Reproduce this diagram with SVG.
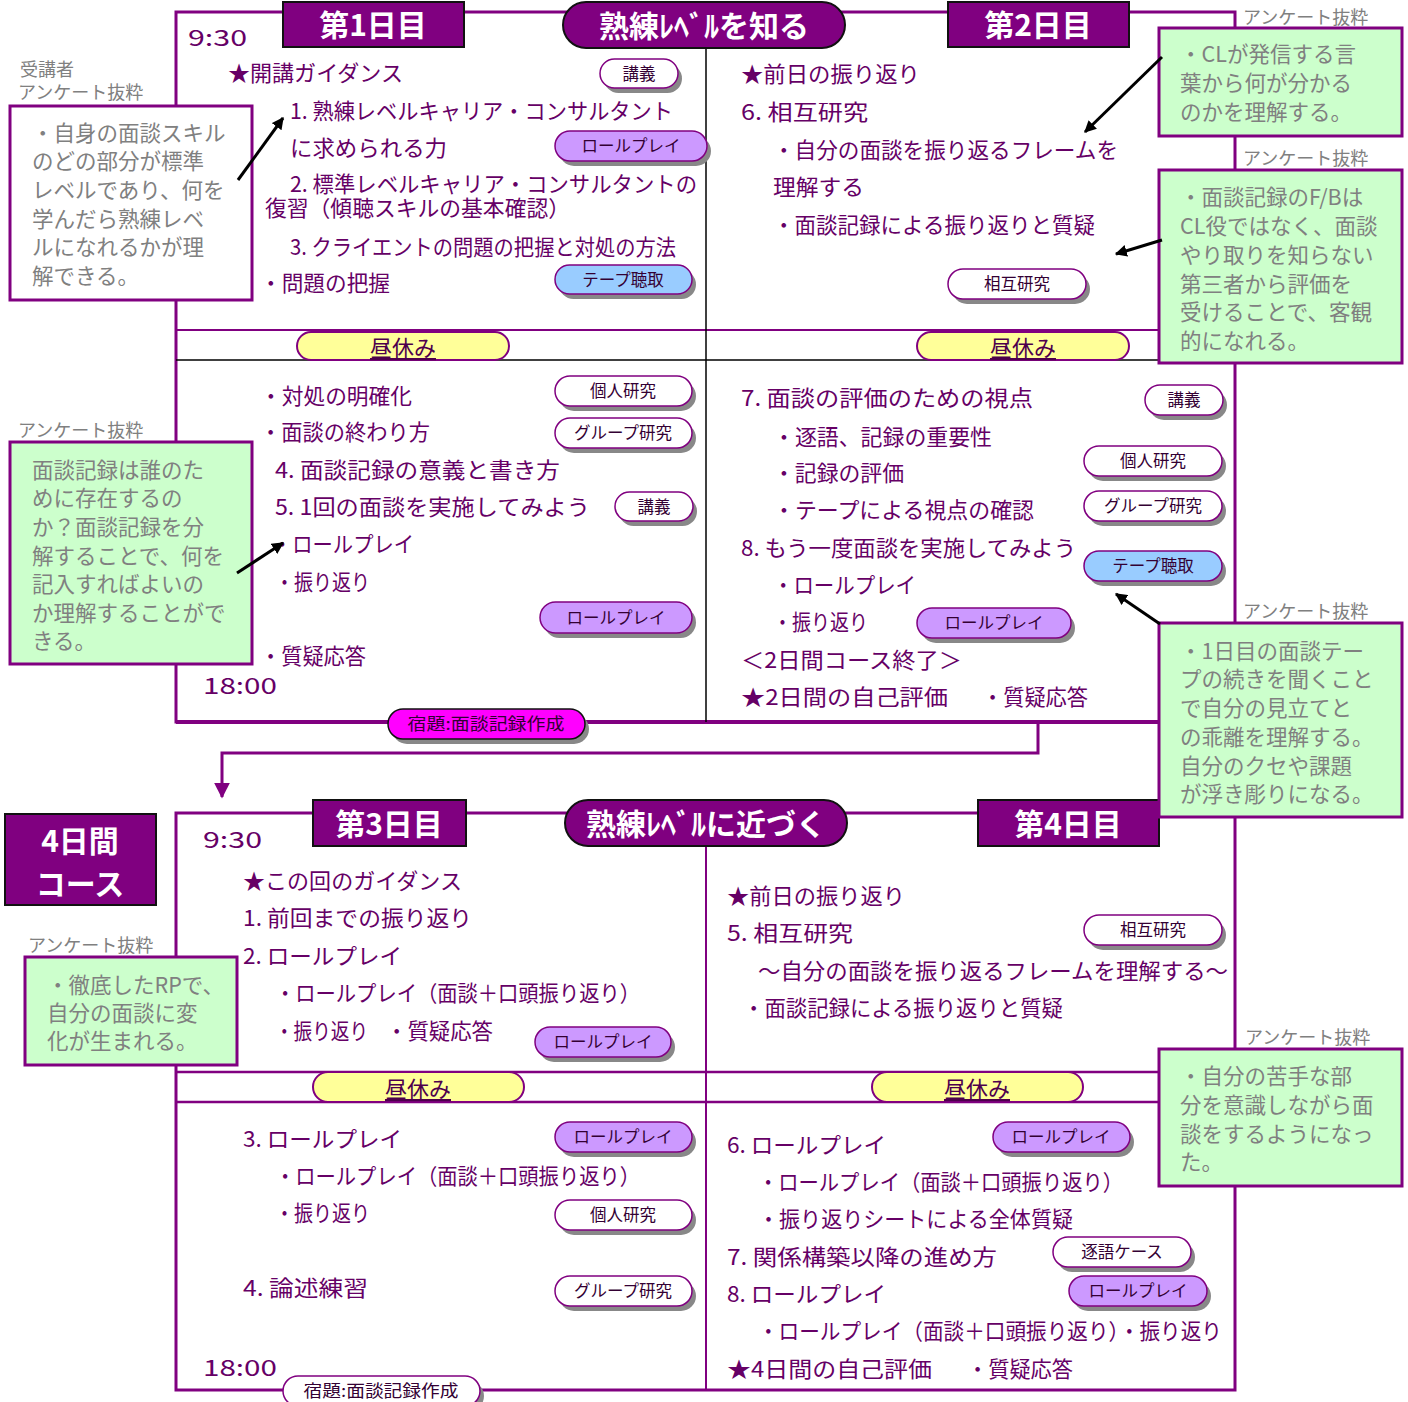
<svg xmlns="http://www.w3.org/2000/svg" width="1408" height="1402" viewBox="0 0 1408 1402">
<style>
text{font-family:"Noto Sans CJK JP","Noto Sans",sans-serif}
.t{font-size:22px;fill:#660066}
.a{font-size:21.5px;fill:#808080}
.lb{font-size:18px;fill:#808080}
.bt{font-size:16.5px;fill:#330033;text-anchor:middle}
.ht{font-size:30px;font-weight:bold;fill:#fff;text-anchor:middle}
.hd{fill:#800080;stroke:#111;stroke-width:2}
.pw{fill:#fff;stroke:#800080;stroke-width:1.5}
.pl{fill:#cc99ff;stroke:#800080;stroke-width:1.5}
.pb{fill:#99ccff;stroke:#800080;stroke-width:1.5}
.pm{fill:#ff00ff;stroke:#111;stroke-width:1.5}
.sh{fill:#888}
.ly{fill:#ffff99;stroke:#800080;stroke-width:2}
.lt{font-size:22px;fill:#4d004d;text-anchor:middle;text-decoration:underline}
.ab{stroke:#800080;stroke-width:3}
.g{fill:#ccffcc}
.w{fill:#fff}
.ar{stroke:#000;stroke-width:3;fill:none}
</style>
<defs>
<marker id="ah" viewBox="0 0 10 10" refX="9" refY="5" markerWidth="12" markerHeight="12" markerUnits="userSpaceOnUse" orient="auto"><path d="M0,0 L10,5 L0,10 z" fill="#000"/></marker>
<marker id="ap" viewBox="0 0 10 10" refX="9" refY="5" markerWidth="16" markerHeight="16" markerUnits="userSpaceOnUse" orient="auto"><path d="M0,0 L10,5 L0,10 z" fill="#800080"/></marker>
</defs>
<rect width="1408" height="1402" fill="#fff"/>

<!-- Top panel frame -->
<g id="panel-top">
<rect x="176" y="12" width="1059" height="710" fill="#fff" stroke="#800080" stroke-width="3"/>
<line x1="176" y1="722" x2="1235" y2="722" stroke="#800080" stroke-width="4"/>
<line x1="176" y1="330" x2="1235" y2="330" stroke="#800080" stroke-width="2"/>
<line x1="176" y1="360" x2="1235" y2="360" stroke="#000" stroke-width="1.5"/>
<line x1="706" y1="46" x2="706" y2="722" stroke="#000" stroke-width="1.5"/>
</g>

<!-- Bottom panel frame -->
<g id="panel-bottom">
<rect x="176" y="813" width="1059" height="577" fill="#fff" stroke="#800080" stroke-width="3"/>
<line x1="176" y1="1072" x2="1235" y2="1072" stroke="#800080" stroke-width="2.5"/>
<line x1="176" y1="1102" x2="1235" y2="1102" stroke="#800080" stroke-width="2.5"/>
<line x1="706" y1="846" x2="706" y2="1390" stroke="#800080" stroke-width="2"/>
</g>

<!-- Headers -->
<g id="hdr-day1"><rect class="hd" x="283" y="2" width="181" height="45"/><text class="ht" x="373" y="36">第1日目</text></g>
<g id="hdr-level1"><rect class="hd" x="563" y="2" width="282" height="46" rx="23"/><text class="ht" x="704" y="37">熟練ﾚﾍﾞﾙを知る</text></g>
<g id="hdr-day2"><rect class="hd" x="948" y="2" width="181" height="45"/><text class="ht" x="1038" y="36">第2日目</text></g>
<g id="hdr-day3"><rect class="hd" x="313" y="800" width="153" height="46"/><text class="ht" x="389" y="835">第3日目</text></g>
<g id="hdr-level2"><rect class="hd" x="565" y="800" width="282" height="46" rx="23"/><text class="ht" x="706" y="835">熟練ﾚﾍﾞﾙに近づく</text></g>
<g id="hdr-day4"><rect class="hd" x="978" y="800" width="181" height="46"/><text class="ht" x="1068" y="835">第4日目</text></g>
<g id="course4"><rect class="hd" x="5" y="814" width="151" height="91"/><text class="ht" x="80" y="852" font-size="29">4日間</text><text class="ht" x="80" y="895" font-size="29">コース</text></g>

<!-- Lunch pills -->
<g id="lunch1"><rect class="ly" x="297" y="332" width="212" height="28" rx="14"/><text class="lt" x="403" y="356">昼休み</text></g>
<g id="lunch2"><rect class="ly" x="917" y="332" width="212" height="28" rx="14"/><text class="lt" x="1023" y="356">昼休み</text></g>
<g id="lunch3"><rect class="ly" x="313" y="1072" width="211" height="30" rx="15"/><text class="lt" x="418" y="1097">昼休み</text></g>
<g id="lunch4"><rect class="ly" x="872" y="1072" width="211" height="30" rx="15"/><text class="lt" x="977" y="1097">昼休み</text></g>

<!-- Badges -->
<g id="b1"><rect class="sh" x="604" y="64" width="78" height="29" rx="14.5"/><rect class="pw" x="600" y="59" width="78" height="29" rx="14.5"/><text class="bt" x="639" y="80">講義</text></g>
<g id="b2"><rect class="sh" x="559" y="136" width="152" height="30" rx="15"/><rect class="pl" x="555" y="131" width="152" height="30" rx="15"/><text class="bt" x="631" y="152">ロールプレイ</text></g>
<g id="b3"><rect class="sh" x="559" y="270" width="137" height="29" rx="14.5"/><rect class="pb" x="555" y="265" width="137" height="29" rx="14.5"/><text class="bt" x="623" y="286">テープ聴取</text></g>
<g id="b4"><rect class="sh" x="952" y="274" width="138" height="30" rx="15"/><rect class="pw" x="948" y="269" width="138" height="30" rx="15"/><text class="bt" x="1017" y="290">相互研究</text></g>
<g id="b5"><rect class="sh" x="559" y="381" width="137" height="30" rx="15"/><rect class="pw" x="555" y="376" width="137" height="30" rx="15"/><text class="bt" x="623" y="397">個人研究</text></g>
<g id="b6"><rect class="sh" x="559" y="423" width="137" height="30" rx="15"/><rect class="pw" x="555" y="418" width="137" height="30" rx="15"/><text class="bt" x="623" y="439">グループ研究</text></g>
<g id="b7"><rect class="sh" x="619" y="497" width="78" height="29" rx="14.5"/><rect class="pw" x="615" y="492" width="78" height="29" rx="14.5"/><text class="bt" x="654" y="513">講義</text></g>
<g id="b8"><rect class="sh" x="544" y="607" width="152" height="31" rx="15.5"/><rect class="pl" x="540" y="602" width="152" height="31" rx="15.5"/><text class="bt" x="616" y="624">ロールプレイ</text></g>
<g id="b9"><rect class="sh" x="392" y="714" width="197" height="30" rx="15"/><rect class="pm" x="388" y="709" width="197" height="30" rx="15"/><text class="bt" x="486" y="730" textLength="157" lengthAdjust="spacingAndGlyphs">宿題:面談記録作成</text></g>
<g id="b10"><rect class="sh" x="1149" y="390" width="78" height="30" rx="15"/><rect class="pw" x="1145" y="385" width="78" height="30" rx="15"/><text class="bt" x="1184" y="406">講義</text></g>
<g id="b11"><rect class="sh" x="1088" y="451" width="138" height="30" rx="15"/><rect class="pw" x="1084" y="446" width="138" height="30" rx="15"/><text class="bt" x="1153" y="467">個人研究</text></g>
<g id="b12"><rect class="sh" x="1088" y="496" width="138" height="30" rx="15"/><rect class="pw" x="1084" y="491" width="138" height="30" rx="15"/><text class="bt" x="1153" y="512">グループ研究</text></g>
<g id="b13"><rect class="sh" x="1088" y="556" width="138" height="30" rx="15"/><rect class="pb" x="1084" y="551" width="138" height="30" rx="15"/><text class="bt" x="1153" y="572">テープ聴取</text></g>
<g id="b14"><rect class="sh" x="921" y="613" width="154" height="30" rx="15"/><rect class="pl" x="917" y="608" width="154" height="30" rx="15"/><text class="bt" x="994" y="629">ロールプレイ</text></g>
<g id="b15"><rect class="sh" x="539" y="1032" width="136" height="30" rx="15"/><rect class="pl" x="535" y="1027" width="136" height="30" rx="15"/><text class="bt" x="603" y="1048">ロールプレイ</text></g>
<g id="b16"><rect class="sh" x="559" y="1127" width="137" height="30" rx="15"/><rect class="pl" x="555" y="1122" width="137" height="30" rx="15"/><text class="bt" x="623" y="1143">ロールプレイ</text></g>
<g id="b17"><rect class="sh" x="559" y="1205" width="137" height="30" rx="15"/><rect class="pw" x="555" y="1200" width="137" height="30" rx="15"/><text class="bt" x="623" y="1221">個人研究</text></g>
<g id="b18"><rect class="sh" x="559" y="1281" width="137" height="30" rx="15"/><rect class="pw" x="555" y="1276" width="137" height="30" rx="15"/><text class="bt" x="623" y="1297">グループ研究</text></g>
<g id="b19"><rect class="sh" x="287" y="1381" width="197" height="30" rx="15"/><rect class="pw" x="283" y="1376" width="197" height="30" rx="15"/><text class="bt" x="381" y="1397" textLength="155" lengthAdjust="spacingAndGlyphs">宿題:面談記録作成</text></g>
<g id="b20"><rect class="sh" x="1088" y="920" width="138" height="30" rx="15"/><rect class="pw" x="1084" y="915" width="138" height="30" rx="15"/><text class="bt" x="1153" y="936">相互研究</text></g>
<g id="b21"><rect class="sh" x="997" y="1127" width="137" height="30" rx="15"/><rect class="pl" x="993" y="1122" width="137" height="30" rx="15"/><text class="bt" x="1061" y="1143">ロールプレイ</text></g>
<g id="b22"><rect class="sh" x="1057" y="1242" width="138" height="30" rx="15"/><rect class="pw" x="1053" y="1237" width="138" height="30" rx="15"/><text class="bt" x="1122" y="1258">逐語ケース</text></g>
<g id="b23"><rect class="sh" x="1073" y="1281" width="138" height="30" rx="15"/><rect class="pl" x="1069" y="1276" width="138" height="30" rx="15"/><text class="bt" x="1138" y="1297">ロールプレイ</text></g>

<!-- Day 1 content -->
<g id="day1-text">
<text class="t" x="188" y="46" textLength="59" lengthAdjust="spacingAndGlyphs">9:30</text>
<text class="t" x="228" y="81" textLength="175" lengthAdjust="spacingAndGlyphs">★開講ガイダンス</text>
<text class="t" x="290" y="119" textLength="383" lengthAdjust="spacingAndGlyphs">1. 熟練レベルキャリア・コンサルタント</text>
<text class="t" x="290" y="156" textLength="157" lengthAdjust="spacingAndGlyphs">に求められる力</text>
<text class="t" x="290" y="192" font-size="21" textLength="407" lengthAdjust="spacingAndGlyphs">2. 標準レベルキャリア・コンサルタントの</text>
<text class="t" x="265" y="216" font-size="21" textLength="305" lengthAdjust="spacingAndGlyphs">復習（傾聴スキルの基本確認）</text>
<text class="t" x="290" y="255" textLength="386" lengthAdjust="spacingAndGlyphs">3. クライエントの問題の把握と対処の方法</text>
<text class="t" x="260" y="291" textLength="130" lengthAdjust="spacingAndGlyphs">・問題の把握</text>
<text class="t" x="260" y="404" textLength="152" lengthAdjust="spacingAndGlyphs">・対処の明確化</text>
<text class="t" x="260" y="440" textLength="170" lengthAdjust="spacingAndGlyphs">・面談の終わり方</text>
<text class="t" x="275" y="478" textLength="285" lengthAdjust="spacingAndGlyphs">4. 面談記録の意義と書き方</text>
<text class="t" x="275" y="515" textLength="315" lengthAdjust="spacingAndGlyphs">5. 1回の面談を実施してみよう</text>
<text class="t" x="272" y="552" textLength="142" lengthAdjust="spacingAndGlyphs">・ロールプレイ</text>
<text class="t" x="275" y="590" textLength="95" lengthAdjust="spacingAndGlyphs">・振り返り</text>
<text class="t" x="260" y="664" textLength="106" lengthAdjust="spacingAndGlyphs">・質疑応答</text>
<text class="t" x="203" y="694" textLength="74" lengthAdjust="spacingAndGlyphs">18:00</text>
</g>

<!-- Day 2 content -->
<g id="day2-text">
<text class="t" x="741" y="82" textLength="179" lengthAdjust="spacingAndGlyphs">★前日の振り返り</text>
<text class="t" x="741" y="120" textLength="127" lengthAdjust="spacingAndGlyphs">6. 相互研究</text>
<text class="t" x="773" y="158" textLength="345" lengthAdjust="spacingAndGlyphs">・自分の面談を振り返るフレームを</text>
<text class="t" x="773" y="195" textLength="91" lengthAdjust="spacingAndGlyphs">理解する</text>
<text class="t" x="773" y="233" textLength="322" lengthAdjust="spacingAndGlyphs">・面談記録による振り返りと質疑</text>
<text class="t" x="741" y="406" textLength="292" lengthAdjust="spacingAndGlyphs">7. 面談の評価のための視点</text>
<text class="t" x="773" y="445" textLength="219" lengthAdjust="spacingAndGlyphs">・逐語、記録の重要性</text>
<text class="t" x="773" y="481" textLength="131" lengthAdjust="spacingAndGlyphs">・記録の評価</text>
<text class="t" x="773" y="518" textLength="261" lengthAdjust="spacingAndGlyphs">・テープによる視点の確認</text>
<text class="t" x="741" y="556" textLength="335" lengthAdjust="spacingAndGlyphs">8. もう一度面談を実施してみよう</text>
<text class="t" x="773" y="593" textLength="143" lengthAdjust="spacingAndGlyphs">・ロールプレイ</text>
<text class="t" x="773" y="630" textLength="95" lengthAdjust="spacingAndGlyphs">・振り返り</text>
<text class="t" x="741" y="668" textLength="221" lengthAdjust="spacingAndGlyphs">＜2日間コース終了＞</text>
<text class="t" x="741" y="705" textLength="207" lengthAdjust="spacingAndGlyphs">★2日間の自己評価</text>
<text class="t" x="982" y="705" textLength="106" lengthAdjust="spacingAndGlyphs">・質疑応答</text>
</g>

<!-- Day 3 content -->
<g id="day3-text">
<text class="t" x="203" y="848" textLength="59" lengthAdjust="spacingAndGlyphs">9:30</text>
<text class="t" x="243" y="889" textLength="219" lengthAdjust="spacingAndGlyphs">★この回のガイダンス</text>
<text class="t" x="243" y="926" textLength="229" lengthAdjust="spacingAndGlyphs">1. 前回までの振り返り</text>
<text class="t" x="243" y="964" textLength="159" lengthAdjust="spacingAndGlyphs">2. ロールプレイ</text>
<text class="t" x="275" y="1001" textLength="365" lengthAdjust="spacingAndGlyphs">・ロールプレイ（面談＋口頭振り返り）</text>
<text class="t" x="275" y="1039" textLength="93" lengthAdjust="spacingAndGlyphs">・振り返り</text>
<text class="t" x="386" y="1039" textLength="107" lengthAdjust="spacingAndGlyphs">・質疑応答</text>
<text class="t" x="243" y="1147" textLength="159" lengthAdjust="spacingAndGlyphs">3. ロールプレイ</text>
<text class="t" x="275" y="1184" textLength="365" lengthAdjust="spacingAndGlyphs">・ロールプレイ（面談＋口頭振り返り）</text>
<text class="t" x="275" y="1221" textLength="95" lengthAdjust="spacingAndGlyphs">・振り返り</text>
<text class="t" x="243" y="1296" textLength="125" lengthAdjust="spacingAndGlyphs">4. 論述練習</text>
<text class="t" x="203" y="1376" textLength="74" lengthAdjust="spacingAndGlyphs">18:00</text>
</g>

<!-- Day 4 content -->
<g id="day4-text">
<text class="t" x="727" y="904" textLength="178" lengthAdjust="spacingAndGlyphs">★前日の振り返り</text>
<text class="t" x="727" y="941" textLength="126" lengthAdjust="spacingAndGlyphs">5. 相互研究</text>
<text class="t" x="758" y="979" textLength="470" lengthAdjust="spacingAndGlyphs">～自分の面談を振り返るフレームを理解する～</text>
<text class="t" x="743" y="1016" textLength="320" lengthAdjust="spacingAndGlyphs">・面談記録による振り返りと質疑</text>
<text class="t" x="727" y="1153" textLength="159" lengthAdjust="spacingAndGlyphs">6. ロールプレイ</text>
<text class="t" x="758" y="1190" textLength="365" lengthAdjust="spacingAndGlyphs">・ロールプレイ（面談＋口頭振り返り）</text>
<text class="t" x="758" y="1227" textLength="315" lengthAdjust="spacingAndGlyphs">・振り返りシートによる全体質疑</text>
<text class="t" x="727" y="1265" textLength="270" lengthAdjust="spacingAndGlyphs">7. 関係構築以降の進め方</text>
<text class="t" x="727" y="1302" textLength="159" lengthAdjust="spacingAndGlyphs">8. ロールプレイ</text>
<text class="t" x="758" y="1339" textLength="464" lengthAdjust="spacingAndGlyphs">・ロールプレイ（面談＋口頭振り返り）・振り返り</text>
<text class="t" x="727" y="1377" textLength="205" lengthAdjust="spacingAndGlyphs">★4日間の自己評価</text>
<text class="t" x="967" y="1377" textLength="106" lengthAdjust="spacingAndGlyphs">・質疑応答</text>
</g>

<!-- Annotations -->
<g id="note1">
<text class="lb" x="20" y="76">受講者</text>
<text class="lb" x="18" y="99">アンケート抜粋</text>
<rect class="w ab" x="10" y="106" width="242" height="194"/>
<text class="a" x="32" y="141">・自身の面談スキル</text>
<text class="a" x="32" y="169">のどの部分が標準</text>
<text class="a" x="32" y="198">レベルであり、何を</text>
<text class="a" x="32" y="227">学んだら熟練レベ</text>
<text class="a" x="32" y="255">ルになれるかが理</text>
<text class="a" x="32" y="284">解できる。</text>
</g>
<g id="note2">
<text class="lb" x="18" y="437">アンケート抜粋</text>
<rect class="g ab" x="10" y="442" width="242" height="222"/>
<text class="a" x="32" y="478">面談記録は誰のた</text>
<text class="a" x="32" y="506">めに存在するの</text>
<text class="a" x="32" y="535">か？面談記録を分</text>
<text class="a" x="32" y="564">解することで、何を</text>
<text class="a" x="32" y="592">記入すればよいの</text>
<text class="a" x="32" y="621">か理解することがで</text>
<text class="a" x="32" y="649">きる。</text>
</g>
<g id="note3">
<text class="lb" x="1243" y="24">アンケート抜粋</text>
<rect class="g ab" x="1159" y="28" width="243" height="108"/>
<text class="a" x="1180" y="62">・CLが発信する言</text>
<text class="a" x="1180" y="91">葉から何が分かる</text>
<text class="a" x="1180" y="120">のかを理解する。</text>
</g>
<g id="note4">
<text class="lb" x="1243" y="165">アンケート抜粋</text>
<rect class="g ab" x="1159" y="170" width="243" height="193"/>
<text class="a" x="1180" y="205">・面談記録のF/Bは</text>
<text class="a" x="1180" y="234">CL役ではなく、面談</text>
<text class="a" x="1180" y="263">やり取りを知らない</text>
<text class="a" x="1180" y="292">第三者から評価を</text>
<text class="a" x="1180" y="320">受けることで、客観</text>
<text class="a" x="1180" y="349">的になれる。</text>
</g>
<g id="note5">
<text class="lb" x="1243" y="618">アンケート抜粋</text>
<rect class="g ab" x="1159" y="623" width="243" height="194"/>
<text class="a" x="1180" y="659">・1日目の面談テー</text>
<text class="a" x="1180" y="687">プの続きを聞くこと</text>
<text class="a" x="1180" y="716">で自分の見立てと</text>
<text class="a" x="1180" y="745">の乖離を理解する。</text>
<text class="a" x="1180" y="774">自分のクセや課題</text>
<text class="a" x="1180" y="802">が浮き彫りになる。</text>
</g>
<g id="note6">
<text class="lb" x="28" y="952">アンケート抜粋</text>
<rect class="g ab" x="25" y="957" width="212" height="108"/>
<text class="a" x="47" y="993">・徹底したRPで、</text>
<text class="a" x="47" y="1021">自分の面談に変</text>
<text class="a" x="47" y="1049">化が生まれる。</text>
</g>
<g id="note7">
<text class="lb" x="1245" y="1044">アンケート抜粋</text>
<rect class="g ab" x="1159" y="1049" width="243" height="137"/>
<text class="a" x="1180" y="1084">・自分の苦手な部</text>
<text class="a" x="1180" y="1113">分を意識しながら面</text>
<text class="a" x="1180" y="1142">談をするようになっ</text>
<text class="a" x="1180" y="1170">た。</text>
</g>

<!-- Connectors (drawn on top) -->
<g id="connectors">
<polyline points="1038,722 1038,753 222,753 222,797" fill="none" stroke="#800080" stroke-width="3" marker-end="url(#ap)"/>
<line class="ar" x1="238" y1="180" x2="283" y2="118" marker-end="url(#ah)"/>
<line class="ar" x1="237" y1="573" x2="283" y2="543" marker-end="url(#ah)"/>
<line class="ar" x1="1162" y1="57" x2="1085" y2="132" marker-end="url(#ah)"/>
<line class="ar" x1="1162" y1="240" x2="1116" y2="254" marker-end="url(#ah)"/>
<line class="ar" x1="1160" y1="624" x2="1116" y2="594" marker-end="url(#ah)"/>
</g>
</svg>
